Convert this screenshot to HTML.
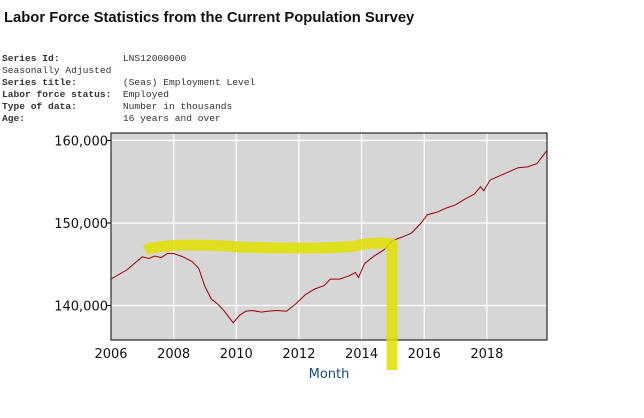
<!DOCTYPE html>
<html><head><meta charset="utf-8"><style>
body{margin:0;background:#fff;width:644px;height:418px;overflow:hidden;position:relative;font-family:"Liberation Sans",sans-serif}
h1{position:absolute;left:4px;top:10px;margin:0;font-size:14.8px;font-weight:bold;color:#111}
.meta{position:absolute;left:2px;top:53px;font-family:"Liberation Mono",monospace;font-size:9.6px;line-height:12px;color:#333}
.meta div{white-space:pre}
.meta b{font-weight:bold}
</style></head><body>
<h1>Labor Force Statistics from the Current Population Survey</h1>
<div class="meta">
<div><b>Series Id:</b>           LNS12000000</div>
<div>Seasonally Adjusted</div>
<div><b>Series title:</b>        (Seas) Employment Level</div>
<div><b>Labor force status:</b>  Employed</div>
<div><b>Type of data:</b>        Number in thousands</div>
<div><b>Age:</b>                 16 years and over</div>
</div>
<svg id="chart" width="644" height="418" style="position:absolute;left:0;top:0"></svg>
<script>
const xTicks=[2006,2008,2010,2012,2014,2016,2018];
const yTicks=[140000,150000,160000];
const yTickLabels=["140,000","150,000","160,000"];
const dates=[2006.0,2006.5,2007.0,2007.2,2007.4,2007.6,2007.8,2008.0,2008.3,2008.6,2008.8,2009.0,2009.2,2009.4,2009.6,2009.9,2010.1,2010.3,2010.5,2010.8,2011.0,2011.3,2011.6,2011.9,2012.2,2012.5,2012.8,2013.0,2013.3,2013.6,2013.8,2013.9,2014.1,2014.4,2014.7,2015.0,2015.3,2015.6,2015.9,2016.1,2016.4,2016.7,2017.0,2017.3,2017.6,2017.8,2017.9,2018.1,2018.4,2018.7,2019.0,2019.3,2019.6,2019.9];
const values=[143200,144300,145900,145700,146000,145800,146300,146300,145900,145300,144500,142300,140800,140200,139400,137900,138800,139300,139400,139200,139300,139400,139300,140200,141300,142000,142400,143200,143200,143600,144000,143400,145100,146000,146700,147900,148300,148800,150000,151000,151300,151800,152200,152900,153500,154400,153900,155200,155700,156200,156700,156800,157200,158700];
const L=111,R=547,T=133,B=340;
const xs=d=>L+(d-2006)*(R-L)/(2019.92-2006);
const ys=v=>223-(v-150000)*0.00825;
const svg=document.getElementById('chart');const NS='http://www.w3.org/2000/svg';
function mk(t,a){const e=document.createElementNS(NS,t);for(const k in a)e.setAttribute(k,a[k]);svg.appendChild(e);return e;}
let e=mk('rect',{x:L,y:T,width:R-L,height:B-T,fill:'#d6d6d6',stroke:'#000','stroke-width':1});


xTicks.forEach(t=>{const x=xs(t);
 let g=mk('line',{x1:x,x2:x,y1:T,y2:B,stroke:'#fff','stroke-width':1.2});
 
 
 let tx=mk('text',{x:x,y:B+18,'text-anchor':'middle','font-size':13,fill:'#111','font-family':'DejaVu Sans, sans-serif'});tx.textContent=t;
 
 });
yTicks.forEach((t,i)=>{const y=ys(t);
 let g=mk('line',{x1:L,x2:R,y1:y,y2:y,stroke:'#fff','stroke-width':1.2});
 
 
 mk('line',{x1:L-4,x2:L,y1:y,y2:y,stroke:'#000'});
 let tx=mk('text',{x:L-3,y:y+5,'text-anchor':'end','font-size':13,fill:'#111','font-family':'DejaVu Sans, sans-serif'});tx.textContent=yTickLabels[i];
 
 });
mk('rect',{x:L,y:T,width:R-L,height:B-T,fill:'none',stroke:'#000','stroke-width':1});
let ln=mk('polyline',{points:dates.map((d,i)=>xs(d)+','+ys(values[i])).join(' '),fill:'none',stroke:'#a00000','stroke-width':1});


let hl=mk('path',{d:'M145,250 C160,244 200,244 240,247 C300,249 340,248 355,246 C370,242 385,243 392,244 L392,370',fill:'none',stroke:'#e0e000','stroke-width':11,'stroke-opacity':0.85,'stroke-linejoin':'round'});


let xl=mk('text',{x:329,y:378,'text-anchor':'middle','font-size':13,fill:'#1a4a7a','font-family':'DejaVu Sans, sans-serif'});xl.textContent='Month';


</script>
</body></html>
